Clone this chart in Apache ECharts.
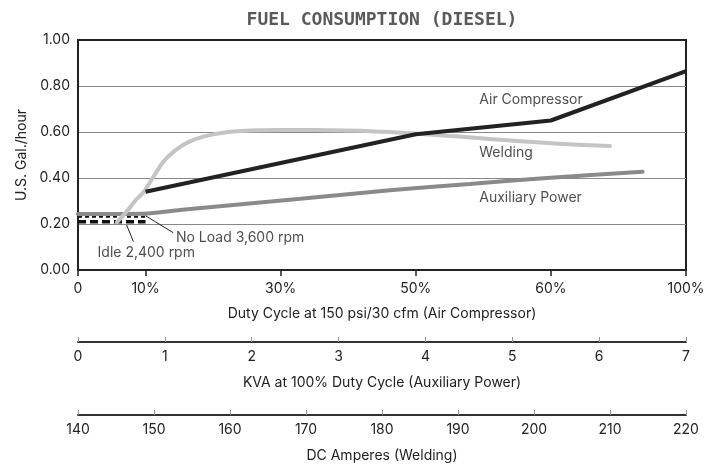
<!DOCTYPE html>
<html><head><meta charset="utf-8">
<script src="https://cdn.jsdelivr.net/npm/echarts@6/dist/echarts.min.js"></script>
<style>html,body{margin:0;padding:0;background:#fff}#c{width:717px;height:468px}</style>
</head><body><div id="c"></div>
<script>
// ---- data ----
const titleText = 'FUEL CONSUMPTION (DIESEL)';
const yTickValues = [0, 0.2, 0.4, 0.6, 0.8, 1.0];

// Duty cycle axis (non-uniform scale): tick values and their slot on the axis
const dutyTickValues = [0, 10, 30, 50, 60, 100];
const dutyTickLabels = ['0', '10%', '30%', '50%', '60%', '100%'];
const dutyTickSlots = [0, 1, 3, 5, 7, 9];

const kvaTicks = [0, 1, 2, 3, 4, 5, 6, 7];
const ampTicks = [140, 150, 160, 170, 180, 190, 200, 210, 220];

// Air Compressor (x: duty %)
const airDuty = [10, 50, 60, 100];
const airGal = [0.34, 0.59, 0.65, 0.865];

// Auxiliary Power (x: KVA)
const auxKva = [0, 0.8, 1.2, 2.56, 3.59, 4.51, 5.28, 6.5];
const auxGal = [0.243, 0.246, 0.262, 0.31, 0.347, 0.374, 0.397, 0.427];

// Welding (x: DC amperes)
const weldAmp = [145.1, 145.8, 146.6, 147.5, 148.7, 149.9, 151.2, 152.8, 154.5, 156.5, 159.1, 162.6, 166.0, 169.2, 173.0, 177.1, 181.0, 184.3, 188.0, 192.2, 196.0, 200.4, 205.0, 210.0];
const weldGal = [0.207, 0.232, 0.262, 0.300, 0.342, 0.404, 0.470, 0.520, 0.556, 0.580, 0.597, 0.606, 0.609, 0.609, 0.608, 0.605, 0.600, 0.594, 0.585, 0.575, 0.565, 0.555, 0.546, 0.539];

// Idle / No load (x: duty %)
const idleDuty = [0, 10];
const idleGal = [0.21, 0.21];
const noLoadDuty = [0, 10];
const noLoadGal = [0.232, 0.232];

// Annotations (x: duty %, y: gal/hour)
const labelNames = ['Air Compressor', 'Welding', 'Auxiliary Power', 'No Load 3,600 rpm', 'Idle 2,400 rpm'];
const labelDuty = [54.7, 54.7, 54.7, 14.5, 2.9];
const labelGal = [0.739, 0.509, 0.313, 0.142, 0.075];
const noLoadLeaderDuty = [10, 14.1];
const noLoadLeaderGal = [0.236, 0.162];
const idleLeaderDuty = [7.2, 8.2];
const idleLeaderGal = [0.196, 0.123];

// ---- helpers ----
function dutyToSlot(p) {
  for (let i = 1; i < dutyTickValues.length; i++) {
    if (p <= dutyTickValues[i]) {
      const a = dutyTickValues[i - 1], b = dutyTickValues[i];
      return dutyTickSlots[i - 1] + (p - a) / (b - a) * (dutyTickSlots[i] - dutyTickSlots[i - 1]);
    }
  }
  return dutyTickSlots[dutyTickSlots.length - 1];
}
const zipDuty = (xs, ys) => xs.map((x, i) => [dutyToSlot(x), ys[i]]);
const zip = (xs, ys) => xs.map((x, i) => [x, ys[i]]);

const FONT = 'Inter';
const txt = { fontFamily: FONT, fontSize: 14, color: '#222' };

const chart = echarts.init(document.getElementById('c'), null, { renderer: 'canvas' });
const option = {
  animation: false,
  backgroundColor: '#fff',
  grid: { left: 78, right: 31, top: 40, bottom: 198, show: true, borderColor: '#222', borderWidth: 2, backgroundColor: 'transparent' },
  xAxis: [
    {
      type: 'value', min: 0, max: 9, position: 'bottom',
      axisLine: { show: true, lineStyle: { color: '#222', width: 2 } },
      axisTick: { show: true, length: 6, customValues: dutyTickSlots, lineStyle: { color: '#222', width: 1.5 } },
      axisLabel: { customValues: dutyTickSlots, margin: 12, ...txt,
        formatter: v => { const i = dutyTickSlots.indexOf(v); return i >= 0 ? dutyTickLabels[i] : ''; } },
      splitLine: { show: false },
      name: 'Duty Cycle at 150 psi/30 cfm (Air Compressor)', nameLocation: 'middle', nameGap: 37,
      nameTextStyle: txt
    },
    {
      type: 'value', min: kvaTicks[0], max: kvaTicks[kvaTicks.length - 1], interval: 1, position: 'bottom', offset: 72,
      axisLine: { show: true, lineStyle: { color: '#333', width: 2 } },
      axisTick: { show: true, inside: true, length: 5, lineStyle: { color: '#999', width: 1 } },
      axisLabel: { margin: 8, ...txt },
      splitLine: { show: false },
      name: 'KVA at 100% Duty Cycle (Auxiliary Power)', nameLocation: 'middle', nameGap: 34,
      nameTextStyle: txt
    },
    {
      type: 'value', min: ampTicks[0], max: ampTicks[ampTicks.length - 1], interval: 10, position: 'bottom', offset: 145,
      axisLine: { show: true, lineStyle: { color: '#333', width: 2 } },
      axisTick: { show: true, inside: true, length: 5, lineStyle: { color: '#999', width: 1 } },
      axisLabel: { margin: 8, ...txt },
      splitLine: { show: false },
      name: 'DC Amperes (Welding)', nameLocation: 'middle', nameGap: 34,
      nameTextStyle: txt
    },
    {
      type: 'value', min: 0, max: 9, position: 'top',
      axisLine: { show: true, lineStyle: { color: '#222', width: 2 } },
      axisTick: { show: false }, axisLabel: { show: false }, splitLine: { show: false },
      name: titleText, nameLocation: 'middle', nameGap: 11,
      nameTextStyle: { fontFamily: 'DejaVu Sans Mono', fontWeight: 'bold', fontSize: 18, color: '#5a5a5a' }
    }
  ],
  yAxis: {
    type: 'value', min: yTickValues[0], max: yTickValues[yTickValues.length - 1], interval: 0.2,
    axisLine: { show: true, lineStyle: { color: '#222', width: 2 } },
    axisTick: { show: false },
    axisLabel: { margin: 8, ...txt, formatter: v => v.toFixed(2) },
    splitLine: { show: true, lineStyle: { color: '#888', width: 1 } },
    name: 'U.S. Gal./hour', nameLocation: 'middle', nameGap: 48, nameTextStyle: txt
  },
  series: [
    { type: 'line', name: 'Idle 2,400 rpm', xAxisIndex: 0, data: zipDuty(idleDuty, idleGal), symbol: 'none',
      lineStyle: { color: '#111', width: 3.5, type: [8, 4] }, z: 2 },
    { type: 'line', name: 'No Load 3,600 rpm', xAxisIndex: 0, data: zipDuty(noLoadDuty, noLoadGal), symbol: 'none',
      lineStyle: { color: '#111', width: 2, type: [4, 3] }, z: 2 },
    { type: 'line', name: 'Auxiliary Power', xAxisIndex: 1, data: zip(auxKva, auxGal), symbol: 'none', smooth: 0.2,
      lineStyle: { color: '#8a8a8a', width: 4, cap: 'round' }, z: 3 },
    { type: 'line', name: 'Welding', xAxisIndex: 2, data: zip(weldAmp, weldGal), symbol: 'none',
      smooth: 0.2,
      lineStyle: { color: '#c4c4c4', width: 4, cap: 'round', join: 'round' }, z: 4 },
    { type: 'line', name: 'Air Compressor', xAxisIndex: 0, data: zipDuty(airDuty, airGal), symbol: 'none',
      lineStyle: { color: '#222', width: 4 }, z: 5 },
    { type: 'line', name: 'leaderNoLoad', xAxisIndex: 0, data: zipDuty(noLoadLeaderDuty, noLoadLeaderGal), symbol: 'none',
      lineStyle: { color: '#222', width: 1 }, silent: true, z: 6 },
    { type: 'line', name: 'leaderIdle', xAxisIndex: 0, data: zipDuty(idleLeaderDuty, idleLeaderGal), symbol: 'none',
      lineStyle: { color: '#222', width: 1 }, silent: true, z: 6 },
    { type: 'scatter', name: 'labels', xAxisIndex: 0, symbolSize: 0, silent: true, z: 7,
      data: labelNames.map((n, i) => ({ name: n, value: [dutyToSlot(labelDuty[i]), labelGal[i]] })),
      label: { show: true, position: 'right', distance: 0, formatter: p => p.name, ...txt } }
  ]
};
chart.setOption(option);
</script></body></html>
